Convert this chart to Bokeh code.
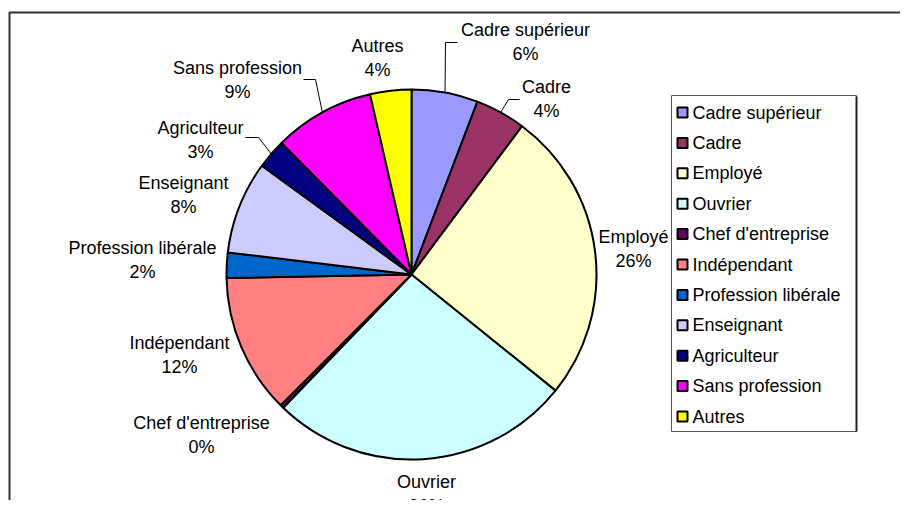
import numpy as np
from bokeh.plotting import figure
from bokeh.models import Range1d, ColumnDataSource
from bokeh.core.properties import value
from bokeh.embed import file_html
from bokeh.resources import INLINE

# ---- data ----
categories = ["Cadre supérieur", "Cadre", "Employé", "Ouvrier", "Chef d'entreprise",
              "Indépendant", "Profession libérale", "Enseignant", "Agriculteur",
              "Sans profession", "Autres"]
shares = [5.8, 4.4, 25.6, 26.4, 0.3, 12.2, 2.2, 8.1, 2.6, 8.8, 3.6]
colors = ["#9999FF", "#993366", "#FFFFCC", "#CCFFFF", "#660066", "#FF8080",
          "#0066CC", "#CCCCFF", "#000080", "#FF00FF", "#FFFF00"]

# ---- layout (picture pixel coordinates) ----
W, H = 900, 500
def X(px): return px
def Y(py): return H - py

CX, CY, R = 411, 274, 185
label_pos = {
    "Cadre supérieur": (525, 29), "Cadre": (546, 86), "Employé": (633, 236),
    "Ouvrier": (426, 481), "Chef d'entreprise": (201, 422), "Indépendant": (179, 342),
    "Profession libérale": (142, 247), "Enseignant": (183, 182), "Agriculteur": (200, 127),
    "Sans profession": (237, 67), "Autres": (377, 45),
}
leaders = {
    "Cadre supérieur": [(445, 42), (457, 42)],
    "Cadre": [(508, 99), (519, 99)],
    "Sans profession": [(315, 79), (303, 79)],
    "Agriculteur": [(258, 137), (245, 137)],
}
FONT = value("Liberation Sans")
FS = "18px"

p = figure(width=W, height=H, output_backend="svg", toolbar_location=None,
           x_range=Range1d(0, W), y_range=Range1d(0, H), min_border=0)
p.axis.visible = False
p.grid.visible = False
p.outline_line_color = None
p.background_fill_color = "white"

# chart border (cropped at right/bottom)
p.line([X(9), X(9), X(930)], [Y(540), Y(12), Y(12)], line_color="#303030", line_width=2)

# pie
vals = np.array(shares, dtype=float)
frac = vals / vals.sum()
c1 = np.cumsum(frac)
c0 = c1 - frac
start = np.pi / 2 - 2 * np.pi * c0
end = np.pi / 2 - 2 * np.pi * c1
src = ColumnDataSource(dict(start=start, end=end, color=colors))
p.wedge(x=X(CX), y=Y(CY), radius=R, start_angle="start", end_angle="end",
        direction="clock", fill_color="color", line_color="black", line_width=2, source=src)

# labels
pct = [f"{int(round(f * 100))}%" for f in frac]
for i, cat in enumerate(categories):
    lx, ly = label_pos[cat]
    p.text([X(lx)], [Y(ly)], text=[cat], text_align="center", text_baseline="middle",
           text_font=FONT, text_font_size=FS, text_color="black")
    p.text([X(lx)], [Y(ly + 24)], text=[pct[i]], text_align="center", text_baseline="middle",
           text_font=FONT, text_font_size=FS, text_color="black")
    if cat in leaders:
        mid = 2 * np.pi * (c0[i] + c1[i]) / 2
        sx = CX + R * np.sin(mid)
        sy = CY - R * np.cos(mid)
        pts = [(sx, sy)] + leaders[cat]
        p.line([X(a) for a, b in pts], [Y(b) for a, b in pts], line_color="black", line_width=1)

# legend box
LX0, LY0, LX1, LY1 = 671, 95, 856, 431
p.quad(left=X(LX0), right=X(LX1), top=Y(LY0), bottom=Y(LY1),
       fill_color="white", line_color="#555555", line_width=1)
p.line([X(LX1), X(LX1)], [Y(LY0 + 1), Y(LY1)], line_color="#222222", line_width=2)
step = 30.4
for i, cat in enumerate(categories):
    yy = 112 + i * step
    p.rect(x=[X(682)], y=[Y(yy)], width=10, height=10, fill_color=colors[i],
           line_color="black", line_width=2)
    p.text([X(692)], [Y(yy)], text=[cat], text_align="left", text_baseline="middle",
           text_font=FONT, text_font_size=FS, text_color="black")

open("out.html", "w").write(file_html(p, INLINE))
